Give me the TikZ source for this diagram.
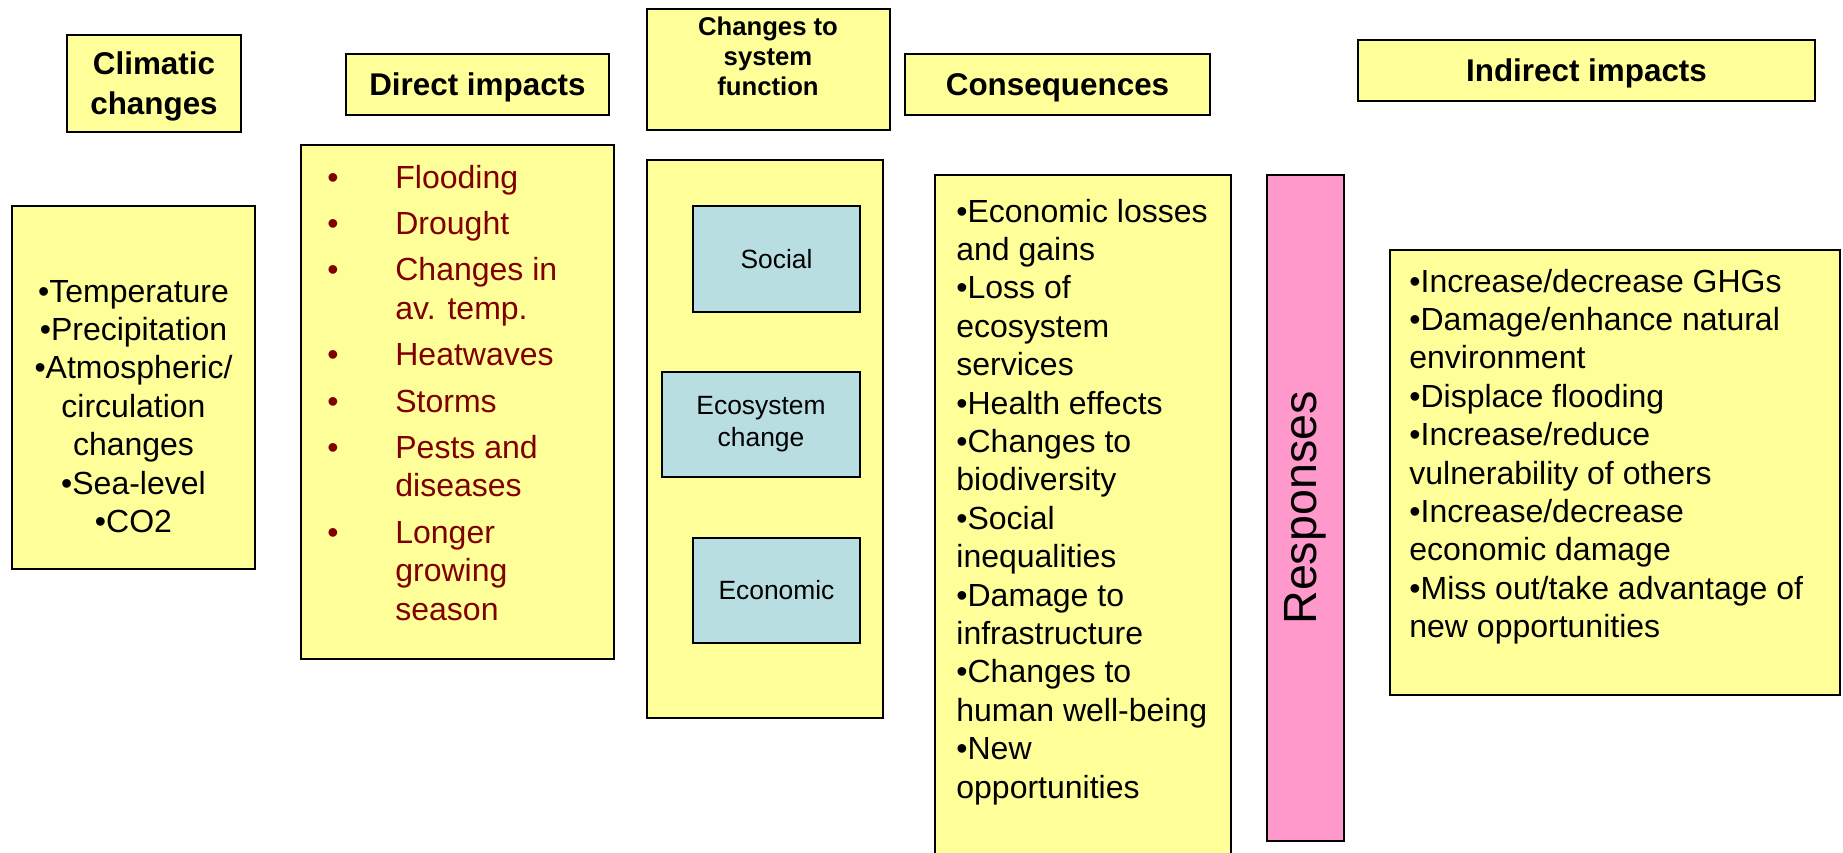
\documentclass[tikz,border=0pt]{standalone}
\usepackage{fontspec}
\setmainfont{Liberation Sans}
\usetikzlibrary{positioning}

\definecolor{boxyellow}{RGB}{255,255,153}
\definecolor{boxblue}{RGB}{184,222,225}
\definecolor{barpink}{RGB}{255,153,204}
\definecolor{itemred}{RGB}{128,0,0}

\begin{document}
\begin{tikzpicture}[x=0.5pt,y=-0.5pt,
  panel/.style={draw,line width=0.9pt,fill=boxyellow,inner sep=0pt},
  header/.style={panel,align=center,text depth=0pt,font=\fontsize{15.7}{19}\selectfont\bfseries},
  sysbox/.style={draw,line width=0.9pt,fill=boxblue,inner sep=0pt,align=center,
    font=\fontsize{13.2}{16}\selectfont},
  listtext/.style={inner sep=0pt,font=\fontsize{16}{19.2}\selectfont}]
   \useasboundingbox (0,0) rectangle (1843,852);
   \clip (0,0) rectangle (1843,852);
   % column headers
   \node[header,minimum width=87pt,minimum height=48.5pt,
     font=\fontsize{15.7}{20}\selectfont\bfseries] (climhead) at (154,83.5) {Climatic\\changes};
   \node[header,minimum width=131.5pt,minimum height=30.5pt] (directhead) at (477.5,84.5) {Direct impacts};
   \node[header,minimum width=121.5pt,minimum height=60.5pt] (syshead) at (768.5,69.5) {};
   \node[inner sep=0pt,align=center,font=\fontsize{12.85}{15}\selectfont\bfseries] (sysheadtext)
     at (768,56) {Changes to\\system\\function};
   \node[header,minimum width=152.5pt,minimum height=30.5pt] (conshead) at (1057.5,84.5) {Consequences};
   \node[header,minimum width=228.5pt,minimum height=30.5pt] (indirhead) at (1586.5,70.5) {Indirect impacts};
   % panels
   \node[panel,minimum width=121.5pt,minimum height=181.5pt] (climbox) at (133.5,387.5) {};
   \node[panel,minimum width=156.5pt,minimum height=257pt] (directbox) at (457.5,402) {};
   \node[panel,minimum width=118pt,minimum height=279pt] (sysbox) at (765,439) {};
   \node[panel,minimum width=148pt,minimum height=412.5pt] (consbox) at (1083,587.5) {};
   \node[panel,minimum width=225pt,minimum height=222.5pt] (indirbox) at (1615,472.5) {};
   \node[draw,line width=0.9pt,fill=barpink,inner sep=0pt,rotate=90,
     minimum width=333pt,minimum height=38.5pt,font=\fontsize{23.3}{28}\selectfont] (responses)
     at (1305.5,508) {Responses};
   % system function boxes
   \node[sysbox,minimum width=83.5pt,minimum height=53pt] (social) at (776.5,259) {Social};
   \node[sysbox,minimum width=99pt,minimum height=52.5pt] (ecosys) at (761,424.5) {Ecosystem\\change};
   \node[sysbox,minimum width=83.5pt,minimum height=52.5pt] (economic) at (776.5,590.5) {Economic};
   % lists
   \node[listtext,anchor=base] (climlist) at (133.5,302) {\begin{tabular}[t]{@{}c@{}}
     \textbullet Temperature\\ \textbullet Precipitation\\ \textbullet Atmospheric/\\
     circulation\\ changes\\ \textbullet Sea-level\\ \textbullet CO2\end{tabular}};
   \node[listtext,anchor=base west,text=itemred] (directlist) at (327,188) {\begin{tabular}[t]{@{}p{34pt}@{}l@{}}
     \textbullet & Flooding\\[4pt]
     \textbullet & Drought\\[4pt]
     \textbullet & Changes in\\ & av. temp.\\[4pt]
     \textbullet & Heatwaves\\[4pt]
     \textbullet & Storms\\[4pt]
     \textbullet & Pests and\\ & diseases\\[4pt]
     \textbullet & Longer\\ & growing\\ & season\end{tabular}};
   \node[listtext,anchor=base west] (conslist) at (956,222) {\begin{tabular}[t]{@{}l@{}}
     \textbullet Economic losses\\ and gains\\ \textbullet Loss of\\ ecosystem\\ services\\
     \textbullet Health effects\\ \textbullet Changes to\\ biodiversity\\ \textbullet Social\\
     inequalities\\ \textbullet Damage to\\ infrastructure\\ \textbullet Changes to\\
     human well-being\\ \textbullet New\\ opportunities\end{tabular}};
   \node[listtext,anchor=base west] (indirlist) at (1409,292) {\begin{tabular}[t]{@{}l@{}}
     \textbullet Increase/decrease GHGs\\ \textbullet Damage/enhance natural\\ environment\\
     \textbullet Displace flooding\\ \textbullet Increase/reduce\\ vulnerability of others\\
     \textbullet Increase/decrease\\ economic damage\\ \textbullet Miss out/take advantage of\\
     new opportunities\end{tabular}};
\end{tikzpicture}
\end{document}
